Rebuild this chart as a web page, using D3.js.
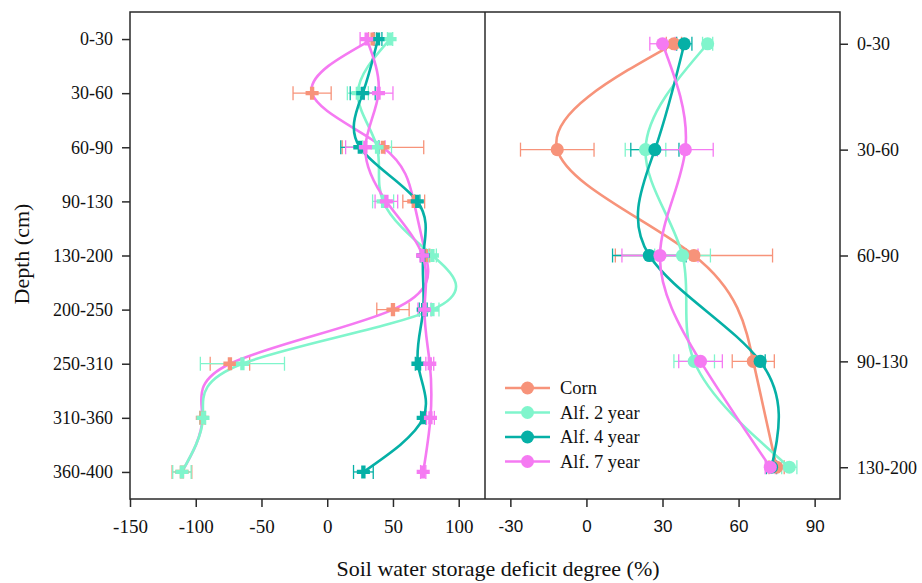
<!DOCTYPE html>
<html>
<head>
<script src="https://d3js.org/d3.v7.min.js" charset="utf-8"></script>
<style>
body { margin: 0; background: #fff; }
</style>
</head>
<body>
<script>
var w = 922;
var h = 583;

// depth classes and series (deficit degree, %)
var depths = ["0-30", "30-60", "60-90", "90-130", "130-200", "200-250", "250-310", "310-360", "360-400"];
var names = ["Corn", "Alf. 2 year", "Alf. 4 year", "Alf. 7 year"];
var corn = [34.5, -11.5, 42.4, 65.8, 75, 50, -74, -95, -110.5];
var alf2 = [47.8, 23.3, 37.9, 42.5, 80, 80, -64.5, -94.5, -110.5];
var alf4 = [38.6, 27, 24.8, 68.5, 73, 73, 69, 73, 27.5];
var alf7 = [30, 39, 29, 45, 72.5, 74, 78, 78.5, 73];
var cornErr = [3, 14.5, 31, 8.3, 3, 12.3, 15, 2, 7.5];
var alf2Err = [2, 8, 11, 8, 3, 5, 32, 2, 7];
var alf4Err = [3, 9.5, 14.5, 2, 2, 3, 2, 2, 7.5];
var alf7Err = [5, 11, 15, 8.6, 2, 5, 3, 3, 2];
var leftTicks = [-150, -100, -50, 0, 50, 100];
var rightTicks = [-30, 0, 30, 60, 90];
var rightDepthCount = 5;

var colors = ["#f7937a", "#80f5cc", "#05b0a6", "#f57af2"];
// in the full-profile panel the corn curve is drawn in the magenta colour
var leftLineColors = ["#f57af2", "#80f5cc", "#05b0a6", "#f57af2"];

var series = [corn, alf2, alf4, alf7].map(function(v, i) {
    var errs = [cornErr, alf2Err, alf4Err, alf7Err][i];
    return {name: names[i], i: i, pts: v.map(function(d, k) {
        return {depth: depths[k], v: d, e: errs[k]};
    })};
});

var svg = d3.select("body")
    .append("svg")
    .attr("width", w)
    .attr("height", h)
    .style("font-family", "'Liberation Serif', 'Times New Roman', serif");

var pTop = 12, pBottom = 499, pLeft = 130, pMid = 485, pRight = 840;

var xL = d3.scaleLinear().domain([-150, 120]).range([pLeft, pMid]);
var yL = d3.scalePoint().domain(depths).range([pTop, pBottom]).padding(0.5);
var xR = d3.scaleLinear().domain([-40, 100]).range([pMid, pRight]);
var yR = d3.scalePoint().domain(depths.slice(0, rightDepthCount)).range([pTop, pBottom]).padding(0.3);

function drawPanel(g, x, y, n, lineColors, marker) {
    var line = d3.line()
        .x(function(d) { return x(d.v); })
        .y(function(d) { return y(d.depth); })
        .curve(d3.curveNatural);

    series.forEach(function(s) {
        var pts = s.pts.slice(0, n);
        var c = colors[s.i];
        var eg = g.append("g").attr("stroke", c).attr("stroke-width", 1.3);
        pts.forEach(function(p) {
            var yy = y(p.depth);
            eg.append("line").attr("x1", x(p.v - p.e)).attr("x2", x(p.v + p.e)).attr("y1", yy).attr("y2", yy);
            eg.append("line").attr("x1", x(p.v - p.e)).attr("x2", x(p.v - p.e)).attr("y1", yy - 7).attr("y2", yy + 7);
            eg.append("line").attr("x1", x(p.v + p.e)).attr("x2", x(p.v + p.e)).attr("y1", yy - 7).attr("y2", yy + 7);
        });
    });

    series.forEach(function(s) {
        var pts = s.pts.slice(0, n);
        g.append("path")
            .datum(pts)
            .attr("d", line)
            .attr("fill", "none")
            .attr("stroke", lineColors[s.i])
            .attr("stroke-width", 2.6);
    });

    series.forEach(function(s) {
        var pts = s.pts.slice(0, n);
        g.selectAll(null)
            .data(pts)
            .enter()
            .append("path")
            .attr("transform", function(d) { return "translate(" + x(d.v) + "," + y(d.depth) + ")"; })
            .attr("d", marker)
            .attr("fill", colors[s.i]);
    });
}

drawPanel(svg.append("g"), xL, yL, depths.length, leftLineColors, d3.symbol().type(d3.symbolCross).size(95)());
drawPanel(svg.append("g"), xR, yR, rightDepthCount, colors, d3.symbol().type(d3.symbolCircle).size(135)());

// frame
svg.append("rect")
    .attr("x", pLeft).attr("y", pTop)
    .attr("width", pRight - pLeft).attr("height", pBottom - pTop)
    .attr("fill", "none").attr("stroke", "#2a2a2a").attr("stroke-width", 1.5);
svg.append("line")
    .attr("x1", pMid).attr("x2", pMid).attr("y1", pTop).attr("y2", pBottom)
    .attr("stroke", "#2a2a2a").attr("stroke-width", 1.5);

function styleAxis(g, size, family) {
    g.select(".domain").remove();
    g.selectAll(".tick line").attr("stroke", "#2a2a2a").attr("stroke-width", 1.5);
    g.selectAll(".tick text")
        .attr("fill", "#111")
        .style("font-size", size + "px")
        .style("font-family", family);
}

var serif = "'Liberation Serif', 'Times New Roman', serif";
var sans = "'Liberation Sans', Arial, sans-serif";
var plain = function(d) { return String(d); };

svg.append("g")
    .attr("transform", "translate(" + pLeft + ",0)")
    .call(d3.axisLeft(yL).tickSize(8).tickPadding(9))
    .call(styleAxis, 18, serif);

svg.append("g")
    .attr("transform", "translate(0," + pBottom + ")")
    .call(d3.axisBottom(xL).tickValues(leftTicks).tickFormat(plain).tickSize(8).tickPadding(13))
    .call(styleAxis, 19, serif);

svg.append("g")
    .attr("transform", "translate(0," + pBottom + ")")
    .call(d3.axisBottom(xR).tickValues(rightTicks).tickFormat(plain).tickSize(8).tickPadding(13))
    .call(styleAxis, 17, sans);

svg.append("g")
    .attr("transform", "translate(" + pRight + ",0)")
    .call(d3.axisRight(yR).tickSize(8).tickPadding(9))
    .call(styleAxis, 18, serif);

// axis titles
svg.append("text")
    .attr("x", 498).attr("y", 576)
    .attr("text-anchor", "middle")
    .style("font-size", "22px")
    .attr("fill", "#111")
    .text("Soil water storage deficit degree (%)");

svg.append("text")
    .attr("transform", "translate(29,254) rotate(-90)")
    .attr("text-anchor", "middle")
    .style("font-size", "22px")
    .attr("fill", "#111")
    .text("Depth (cm)");

// legend
var legend = svg.append("g").attr("transform", "translate(505,388)");
names.forEach(function(n, i) {
    var row = legend.append("g").attr("transform", "translate(0," + (i * 24.5) + ")");
    row.append("line").attr("x1", 0).attr("x2", 45).attr("stroke", colors[i]).attr("stroke-width", 2.6);
    row.append("circle").attr("cx", 22.5).attr("r", 6.5).attr("fill", colors[i]);
    row.append("text").attr("x", 55).attr("dy", "0.35em")
        .style("font-size", "18.5px").attr("fill", "#111").text(n);
});
</script>
</body>
</html>
